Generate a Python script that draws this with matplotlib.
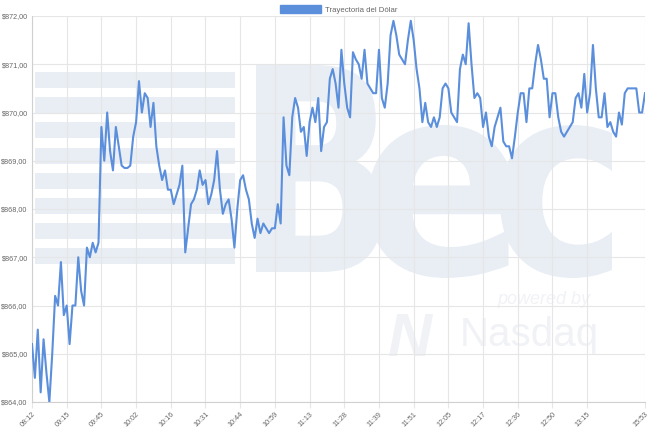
import matplotlib
matplotlib.use("Agg")
import matplotlib.pyplot as plt
import matplotlib.transforms as mtransforms
from matplotlib.patches import Patch, PathPatch, Rectangle
from matplotlib.textpath import TextPath
from matplotlib.font_manager import FontProperties

# ── data ──────────────────────────────────────────────────
tick_labels = ["08:12", "09:15", "09:45", "10:02", "10:16", "10:31", "10:44", "10:59",
               "11:13", "11:28", "11:39", "11:51", "12:05", "12:17", "12:36", "12:50",
               "13:15", "15:53"]
tick_index = [0, 12, 24, 36, 48, 60, 72, 84, 96, 108, 120, 132, 144, 156, 168, 180, 192, 212]

usd_clp = [
    865.2, 864.5, 865.5, 864.2, 865.3, 864.6, 864.0, 865.0, 866.2, 866.0,
    866.9, 865.8, 866.0, 865.2, 866.0, 866.0, 867.0, 866.3, 866.0, 867.2,
    867.0, 867.3, 867.1, 867.3, 869.7, 869.0, 870.0, 869.2, 868.8, 869.7,
    869.3, 868.9, 868.85, 868.85, 868.9, 869.5, 869.8, 870.65, 870.0, 870.4,
    870.3, 869.7, 870.2, 869.3, 868.9, 868.6, 868.8, 868.4, 868.4, 868.1,
    868.3, 868.5, 868.9, 867.1, 867.6, 868.1, 868.2, 868.4, 868.8, 868.5,
    868.6, 868.1, 868.3, 868.6, 869.2, 868.4, 867.9, 868.1, 868.2, 867.8,
    867.2, 868.0, 868.6, 868.7, 868.4, 868.2, 867.7, 867.4, 867.8, 867.5,
    867.7, 867.6, 867.5, 867.6, 867.6, 868.1, 867.7, 869.9, 868.9, 868.7,
    869.9, 870.3, 870.1, 869.6, 869.7, 869.1, 869.8, 870.1, 869.8, 870.3,
    869.2, 869.7, 869.8, 870.7, 870.9, 870.6, 870.1, 871.3, 870.6, 870.1,
    869.9, 871.25, 871.1, 871.0, 870.7, 871.3, 870.6, 870.5, 870.4, 870.4,
    871.3, 870.3, 870.1, 870.6, 871.6, 871.9, 871.6, 871.2, 871.1, 871.0,
    871.5, 871.9, 871.5, 870.9, 870.5, 869.8, 870.2, 869.8, 869.7, 869.9,
    869.7, 869.9, 870.5, 870.6, 870.5, 870.0, 869.9, 869.8, 870.9, 871.2,
    871.0, 871.85, 871.0, 870.3, 870.4, 870.3, 869.7, 870.0, 869.5, 869.3,
    869.7, 869.9, 870.1, 869.4, 869.3, 869.3, 869.05, 869.5, 870.0, 870.4,
    870.4, 869.8, 870.5, 870.5, 871.0, 871.4, 871.1, 870.7, 870.7, 869.9,
    870.4, 870.4, 869.9, 869.6, 869.5, 869.6, 869.7, 869.8, 870.3, 870.4,
    870.1, 870.8, 870.0, 870.4, 871.4, 870.5, 869.9, 869.9, 870.4, 869.7,
    869.8, 869.6, 869.5, 870.0, 869.75, 870.4, 870.5, 870.5, 870.5, 870.5,
    870.0, 870.0, 870.4,
]
y_ticks = [864, 865, 866, 867, 868, 869, 870, 871, 872]

LINE = "#5b8fdc"
GRID = "#e6e6e6"
TXT = "#666666"
WM = "#e9eef5"
WM2 = "#f0f2f6"

plt.rcParams["font.family"] = ["Liberation Sans", "DejaVu Sans"]

W, H = 650, 436
fig = plt.figure(figsize=(W / 100, H / 100), dpi=100)
ax = fig.add_axes([32 / W, (H - 402) / H, (645 - 32) / W, (402 - 16) / H])
ax.set_facecolor("none")

# ── watermark (background image of the site) ──────────────
px = mtransforms.IdentityTransform()
for top in [72, 97, 122, 148, 173, 198, 223, 248]:
    fig.patches.append(Rectangle((35, H - top - 16), 200, 16, transform=px,
                                 facecolor=WM, edgecolor="none", zorder=-2))

wm_font = FontProperties(family="DejaVu Sans", weight="bold")
# letter, left, right, top, bottom (pixels from the top-left)
for ch, x0, x1, t, b in [("B", 256, 382, 65, 272), ("e", 368, 515, 125, 278), ("c", 500, 612, 125, 278)]:
    tp = TextPath((0, 0), ch, size=1, prop=wm_font)
    bb = tp.get_extents()
    tr = (mtransforms.Affine2D().translate(-bb.x0, -bb.y0)
          .scale((x1 - x0) / bb.width, (b - t) / bb.height).translate(x0, H - b))
    fig.patches.append(PathPatch(tp, transform=tr, facecolor=WM, edgecolor="none", zorder=-2))
fig.text(497 / W, (H - 304) / H, "powered by", fontsize=13, style="italic", color=WM2, zorder=-1)
fig.text(460 / W, (H - 346) / H, "Nasdaq", fontsize=29, color=WM2, zorder=-1)
fig.text(388 / W, (H - 356) / H, "N", fontsize=44, weight="bold", style="italic", color=WM2, zorder=-1)

# ── line ──────────────────────────────────────────────────
ax.plot(range(len(usd_clp)), usd_clp, color=LINE, lw=1.5, zorder=3)

ax.set_xlim(0, len(usd_clp) - 1)
ax.set_ylim(864, 872)
ax.set_yticks(y_ticks)
ax.set_yticklabels([f"${v:,.2f}".replace(".", ",") for v in y_ticks], fontsize=5.2, color=TXT)
ax.set_xticks(tick_index)
ax.set_xticklabels(tick_labels, fontsize=5.2, color=TXT, rotation=45, ha="right",
                   rotation_mode="anchor")
ax.grid(True, color=GRID, lw=0.8, zorder=0)
ax.set_axisbelow(True)
ax.tick_params(axis="x", length=4, color=GRID, pad=2)
ax.tick_params(axis="y", length=0, pad=3)
for s in ["top", "right"]:
    ax.spines[s].set_visible(False)
ax.spines["left"].set_color("#d0d0d0")
ax.spines["bottom"].set_color("#d0d0d0")
ax.spines["left"].set_linewidth(0.8)
ax.spines["bottom"].set_linewidth(0.8)

fig.legend(handles=[Patch(facecolor=LINE, edgecolor=LINE)], labels=["Trayectoria del Dólar"],
           loc="upper center", bbox_to_anchor=(0.521, 1.005), frameon=False, fontsize=5.6,
           handlelength=5.2, handleheight=1.3, handletextpad=0.5, labelcolor=TXT)

fig.savefig("out.png", dpi=100)
